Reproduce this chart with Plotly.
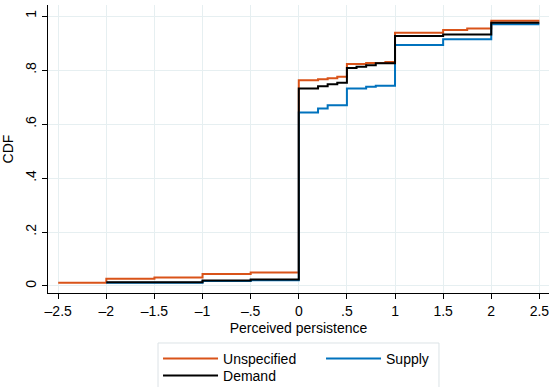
import plotly.graph_objects as go

# Empirical CDFs of perceived persistence, by shock type (step breakpoints and levels)
unspec_x = [-2.5, -2, -1.5, -1, -0.5, 0, 0.2, 0.3, 0.4, 0.5, 0.7, 0.9, 1, 1.5, 1.75, 2, 2.5]
unspec_y = [0.012, 0.027, 0.031, 0.044, 0.050, 0.762, 0.766, 0.770, 0.775, 0.822, 0.826, 0.830,
            0.938, 0.948, 0.954, 0.983, 0.983]

supply_x = [-2, -1, -0.5, 0, 0.2, 0.3, 0.5, 0.7, 0.8, 1, 1.5, 2, 2.5]
supply_y = [0.012, 0.018, 0.021, 0.643, 0.658, 0.670, 0.732, 0.738, 0.742, 0.893, 0.914,
            0.970, 0.970]

demand_x = [-2, -1, -0.5, 0, 0.2, 0.3, 0.4, 0.5, 0.6, 0.7, 0.8, 1, 1.5, 2, 2.5]
demand_y = [0.014, 0.020, 0.024, 0.732, 0.740, 0.747, 0.753, 0.808, 0.812, 0.818, 0.825,
            0.926, 0.932, 0.975, 0.975]

x_ticks = [-2.5, -2, -1.5, -1, -0.5, 0, 0.5, 1, 1.5, 2, 2.5]
x_ticktext = ["\u20132.5", "\u20132", "\u20131.5", "\u20131", "\u2013.5", "0", ".5", "1", "1.5", "2", "2.5"]
y_ticks = [0, 0.2, 0.4, 0.6, 0.8, 1]
y_ticktext = ["0", ".2", ".4", ".6", ".8", "1"]

FONT = "Arial"
GRID = "#E6EFF1"
LEGEND_BORDER = "#DCE3E6"

fig = go.Figure()
# (name, x, y, colour, legend row, legend entry width)
series = [
    ("Unspecified", unspec_x, unspec_y, "#D95319", "legend", 93),
    ("Supply", supply_x, supply_y, "#0072BD", "legend", 50),
    ("Demand", demand_x, demand_y, "#000000", "legend2", 93),
]
for name, xs, ys, color, leg, lw in series:
    fig.add_trace(go.Scatter(
        x=xs, y=ys, mode="lines", name=name, legend=leg, legendwidth=lw,
        line=dict(color=color, width=2, shape="hv"),
    ))

legend_common = dict(
    orientation="h", xanchor="left", yanchor="top", x=0.2196,
    borderwidth=0, bgcolor="rgba(0,0,0,0)", itemwidth=55,
    font=dict(family=FONT, size=14),
)

fig.update_layout(
    width=551, height=387,
    margin=dict(l=48, r=2, t=5, b=94, autoexpand=False),
    paper_bgcolor="white", plot_bgcolor="white",
    font=dict(family=FONT, size=14, color="#000000"),
    showlegend=True,
    legend=dict(legend_common, y=-0.1736),
    legend2=dict(legend_common, y=-0.2326),
    # frame around the two legend rows
    shapes=[dict(
        type="rect", xref="paper", yref="paper",
        x0=0.2196, x1=0.7804, y0=-0.1736, y1=-0.36,
        line=dict(color=LEGEND_BORDER, width=1), fillcolor="white", layer="above",
    )],
    xaxis=dict(
        range=[-2.606, 2.6], tickvals=x_ticks, ticktext=x_ticktext,
        showgrid=True, gridcolor=GRID, gridwidth=1, zeroline=False,
        showline=True, linecolor="#000000", linewidth=1,
        ticks="outside", ticklen=5, tickcolor="#000000",
        tickfont=dict(family=FONT, size=14),
        title=dict(text="Perceived persistence", standoff=5, font=dict(family=FONT, size=14)),
    ),
    yaxis=dict(
        range=[-0.026, 1.041], tickvals=y_ticks, ticktext=y_ticktext, tickangle=-90,
        showgrid=True, gridcolor=GRID, gridwidth=1, zeroline=False,
        showline=True, linecolor="#000000", linewidth=1,
        ticks="outside", ticklen=5, tickcolor="#000000",
        tickfont=dict(family=FONT, size=14),
        title=dict(text="CDF", standoff=6, font=dict(family=FONT, size=14)),
    ),
)

fig.write_html("out.html")
